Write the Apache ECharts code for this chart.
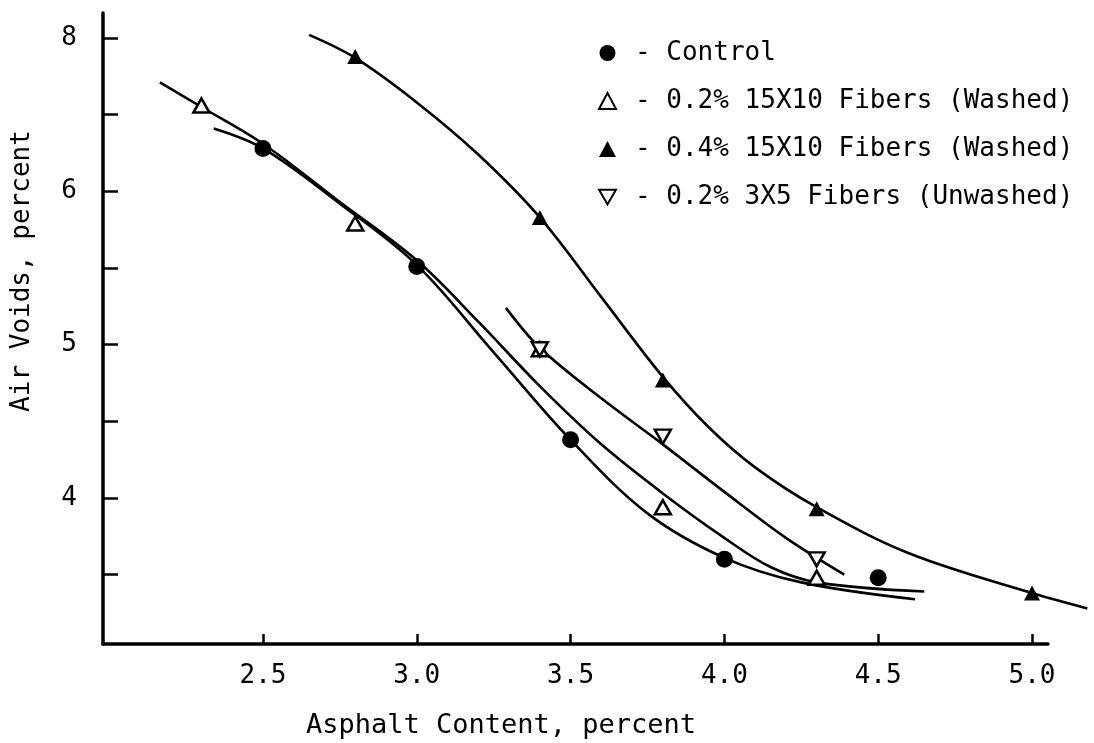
<!DOCTYPE html>
<html>
<head>
<meta charset="utf-8">
<script src="https://cdn.jsdelivr.net/npm/echarts@6/dist/echarts.min.js"></script>
<style>
  html, body { margin: 0; padding: 0; background: #fff; }
  #chart { width: 1094px; height: 743px; }
</style>
</head>
<body>
<div id="chart"></div>
<script>
// measured points (asphalt %, air voids %)
const controlPts = [[2.5, 6.28], [3.0, 5.51], [3.5, 4.38], [4.0, 3.60], [4.5, 3.48]];
const washed02Pts = [[2.3, 6.56], [2.8, 5.79], [3.4, 4.97], [3.8, 3.94], [4.3, 3.48]];
const washed04Pts = [[2.8, 6.88], [3.4, 5.83], [3.8, 4.77], [4.3, 3.93], [5.0, 3.38]];
const unwashedPts = [[3.4, 4.97], [3.8, 4.40], [4.3, 3.60]];

// hand-drawn fitted curves
const controlCurve = [[2.34, 6.41], [2.5, 6.28], [2.75, 5.92], [3.0, 5.52], [3.25, 4.95], [3.5, 4.38],
  [3.75, 3.9], [4.0, 3.61], [4.25, 3.45], [4.62, 3.34]];
const washed02Curve = [[2.165, 6.71], [2.3, 6.55], [2.5, 6.31], [2.75, 5.93], [3.0, 5.55], [3.2, 5.15], [3.4, 4.73],
  [3.6, 4.35], [3.8, 4.03], [4.0, 3.74], [4.15, 3.55], [4.3, 3.45], [4.65, 3.39]];
const washed04Curve = [[2.65, 7.02], [2.8, 6.87], [3.0, 6.58], [3.2, 6.24], [3.4, 5.83], [3.6, 5.31], [3.8, 4.79],
  [3.95, 4.46], [4.1, 4.2], [4.3, 3.94], [4.6, 3.64], [5.0, 3.38], [5.18, 3.28]];
const unwashedCurve = [[3.29, 5.24], [3.4, 4.98], [3.6, 4.65], [3.8, 4.35], [4.0, 4.04], [4.2, 3.74], [4.39, 3.5]];

const seriesNames = ['- Control', '- 0.2% 15X10 Fibers (Washed)', '- 0.4% 15X10 Fibers (Washed)', '- 0.2% 3X5 Fibers (Unwashed)'];
const xTicks = [2.5, 3.0, 3.5, 4.0, 4.5, 5.0];
const yTicks = [3.5, 4, 4.5, 5, 5.5, 6, 6.5, 7];
const yLabelValues = [4, 5, 6, 7];
const yLabelTexts = ['4', '5', '6', '8'];

const FONT = 'DejaVu Sans Mono';
const chart = echarts.init(document.getElementById('chart'));

// curves live on a hidden, wider grid with the same scale so they can run past the axis end
const curve = (data) => ({
  type: 'line',
  xAxisIndex: 1,
  yAxisIndex: 1,
  data: data,
  smooth: 0.35,
  showSymbol: false,
  silent: true,
  lineStyle: { color: '#000', width: 2.6 },
  z: 2
});

const downTri = 'path://M0,0 L12,0 L6,10.4 Z';
const hiddenAxis = { type: 'value', show: false, splitLine: { show: false } };

chart.setOption({
  animation: false,
  backgroundColor: '#fff',
  grid: [
    { left: 103, right: 46, top: 13, bottom: 99 },
    { left: 103, right: 0, top: 13, bottom: 99 }
  ],
  xAxis: [{
    type: 'value',
    min: 1.98,
    max: 5.052,
    splitLine: { show: false },
    axisLine: { lineStyle: { color: '#000', width: 3.5 } },
    axisTick: { inside: true, length: 10, customValues: xTicks, lineStyle: { color: '#000', width: 2.5 } },
    axisLabel: {
      customValues: xTicks, margin: 19, color: '#000', fontFamily: FONT, fontSize: 26,
      formatter: (v) => v.toFixed(1)
    }
  }, Object.assign({ gridIndex: 1, min: 1.98, max: 5.2017 }, hiddenAxis)],
  yAxis: [{
    type: 'value',
    min: 3.048,
    max: 7.163,
    splitLine: { show: false },
    axisLine: { lineStyle: { color: '#000', width: 3.5 } },
    axisTick: { inside: true, length: 15, customValues: yTicks, lineStyle: { color: '#000', width: 2.5 } },
    axisLabel: {
      customValues: yLabelValues, margin: 26, color: '#000', fontFamily: FONT, fontSize: 26,
      formatter: (v) => yLabelTexts[yLabelValues.indexOf(Math.round(v))]
    }
  }, Object.assign({ gridIndex: 1, min: 3.048, max: 7.163 }, hiddenAxis)],
  legend: {
    orient: 'vertical',
    left: 593,
    top: 33,
    itemWidth: 17,
    itemHeight: 16,
    itemGap: 18,
    data: seriesNames,
    textStyle: { color: '#000', fontFamily: FONT, fontSize: 26, lineHeight: 30, padding: [0, 0, 0, 14] }
  },
  graphic: [
    {
      type: 'text', left: 306, top: 712,
      style: { text: 'Asphalt Content, percent', font: '27px "DejaVu Sans Mono"', fill: '#000' }
    },
    {
      type: 'text', x: 9, y: 271, rotation: Math.PI / 2,
      style: { text: 'Air Voids, percent', font: '26px "DejaVu Sans Mono"', fill: '#000', align: 'center', verticalAlign: 'top' }
    }
  ],
  series: [
    curve(controlCurve),
    curve(washed02Curve),
    curve(washed04Curve),
    curve(unwashedCurve),
    {
      name: seriesNames[0], type: 'scatter', data: controlPts, symbol: 'circle', symbolSize: 17,
      itemStyle: { color: '#000', opacity: 1 }, z: 3
    },
    {
      name: seriesNames[1], type: 'scatter', data: washed02Pts, symbol: 'triangle', symbolSize: [16, 14],
      itemStyle: { color: '#fff', borderColor: '#000', borderWidth: 2.5, opacity: 1 }, z: 3
    },
    {
      name: seriesNames[2], type: 'scatter', data: washed04Pts, symbol: 'triangle', symbolSize: [16, 15],
      itemStyle: { color: '#000', opacity: 1 }, z: 3
    },
    {
      name: seriesNames[3], type: 'scatter', data: unwashedPts, symbol: downTri, symbolSize: [16, 14],
      itemStyle: { color: '#fff', borderColor: '#000', borderWidth: 2.5, opacity: 1 }, z: 3
    }
  ]
});
</script>
</body>
</html>
